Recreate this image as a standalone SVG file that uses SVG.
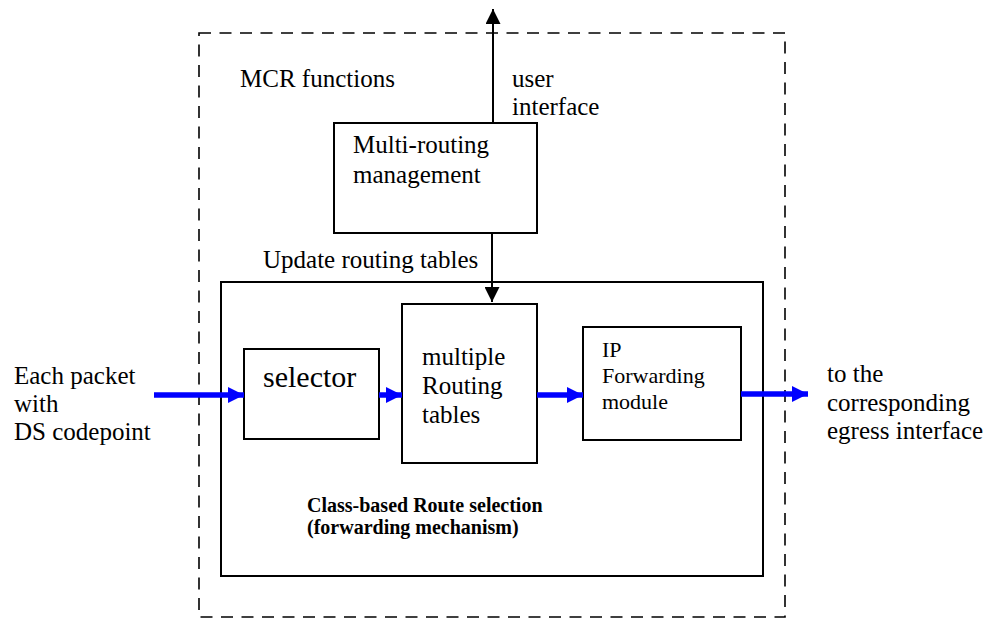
<svg xmlns="http://www.w3.org/2000/svg" width="985" height="620" viewBox="0 0 985 620">
<style>
.t{font-family:'Liberation Serif','Times New Roman',serif;font-size:25px;fill:#000}
.b{font-family:'Liberation Serif','Times New Roman',serif;font-weight:bold;font-size:20px;fill:#000}
.box{fill:#fff;stroke:#000;stroke-width:2}
.blk{stroke:#000;stroke-width:2;fill:none}
.blue{stroke:#0000ff;stroke-width:5.5;fill:none}
</style>
<defs>
<marker id="ah" viewBox="0 0 10 10" refX="10" refY="5" markerWidth="15" markerHeight="15" markerUnits="userSpaceOnUse" orient="auto"><path d="M0,0L10,5L0,10z" fill="#000"/></marker>
<marker id="bh" viewBox="0 0 10 10" refX="10" refY="5" markerWidth="16" markerHeight="16" markerUnits="userSpaceOnUse" orient="auto"><path d="M0,0L10,5L0,10z" fill="#0000ff"/></marker>
</defs>
<g id="mcr">
<rect x="199" y="33" width="586" height="584" fill="none" stroke="#000" stroke-width="1.6" stroke-dasharray="12,8.5"/>
<text class="t" x="240" y="87">MCR functions</text>
</g>
<g id="class-based">
<rect class="box" x="221" y="282" width="542" height="294"/>
<text class="b" x="307" y="512">Class-based Route selection</text>
<text class="b" x="307" y="534">(forwarding mechanism)</text>
</g>
<g id="management">
<rect class="box" x="334" y="123" width="203" height="110"/>
<text class="t" x="353" y="153">Multi-routing</text>
<text class="t" x="353" y="183">management</text>
</g>
<g id="selector">
<rect class="box" x="244" y="349" width="135" height="90"/>
<text class="t" x="263" y="387" style="font-size:30px">selector</text>
</g>
<g id="tables">
<rect class="box" x="402" y="304" width="135" height="159"/>
<text class="t" x="422" y="365">multiple</text>
<text class="t" x="422" y="394">Routing</text>
<text class="t" x="422" y="423">tables</text>
</g>
<g id="ipfwd">
<rect class="box" x="583" y="327" width="158" height="113"/>
<text class="t" x="602" y="357" style="font-size:22px">IP</text>
<text class="t" x="602" y="383" style="font-size:22px">Forwarding</text>
<text class="t" x="602" y="409" style="font-size:22px">module</text>
</g>
<g id="labels">
<text class="t" x="512" y="87">user</text>
<text class="t" x="512" y="115">interface</text>
<text class="t" x="263" y="268">Update routing tables</text>
<text class="t" x="14" y="384">Each packet</text>
<text class="t" x="14" y="412">with</text>
<text class="t" x="14" y="440">DS codepoint</text>
<text class="t" x="827" y="382">to the</text>
<text class="t" x="827" y="411">corresponding</text>
<text class="t" x="827" y="439">egress interface</text>
</g>
<g id="connectors">
<line class="blk" x1="493" y1="123" x2="493" y2="9" marker-end="url(#ah)"/>
<line class="blk" x1="492" y1="233" x2="492" y2="302" marker-end="url(#ah)"/>
<line class="blue" x1="154" y1="395" x2="244" y2="395" marker-end="url(#bh)"/>
<line class="blue" x1="379" y1="395" x2="402" y2="395" marker-end="url(#bh)"/>
<line class="blue" x1="537" y1="395" x2="583" y2="395" marker-end="url(#bh)"/>
<line class="blue" x1="741" y1="394" x2="808" y2="394" marker-end="url(#bh)"/>
</g>
</svg>
